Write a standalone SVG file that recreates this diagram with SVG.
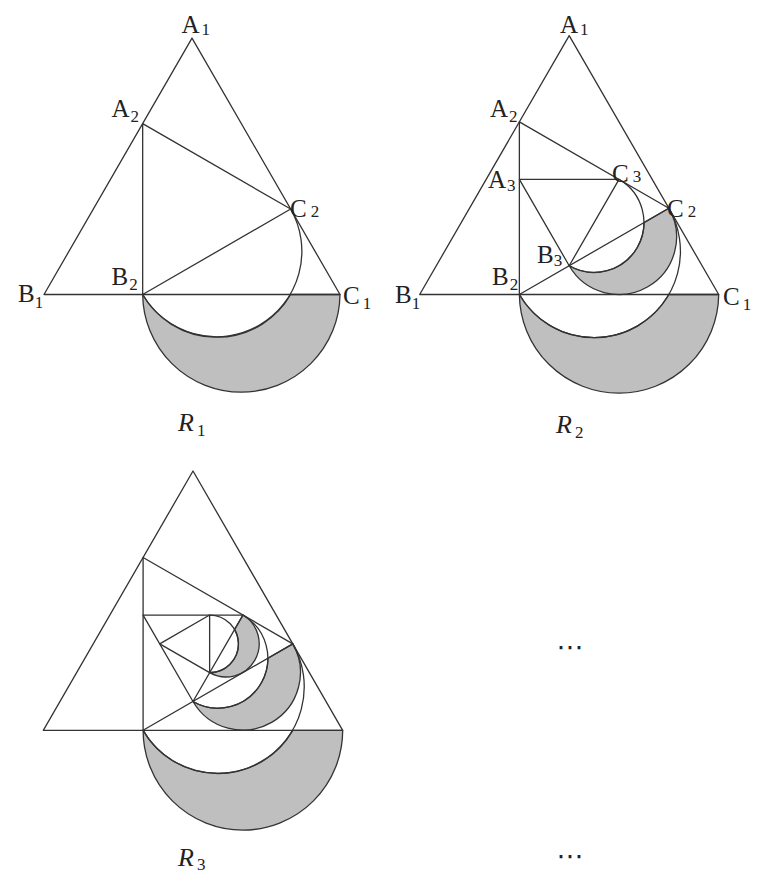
<svg xmlns="http://www.w3.org/2000/svg" width="762" height="874" viewBox="0 0 762 874">
<style>
.ln{fill:none;stroke:#333;stroke-width:1.3;stroke-linejoin:round;stroke-linecap:round}
.sh{fill:#bfbfbf;stroke:#333;stroke-width:1.3;stroke-linejoin:round}
.lb{font-family:"Liberation Serif","DejaVu Serif",serif;font-size:25px;fill:#222}
.sb{font-size:17px}
.rl{font-family:"Liberation Serif","DejaVu Serif",serif;font-size:26px;font-style:italic;fill:#222}
.dots{font-family:"DejaVu Sans","Liberation Sans",sans-serif;font-size:27px;fill:#222}
</style>
<rect width="762" height="874" fill="#fff"/>

<!-- Panel R1 -->
<g id="panel-R1">
  <g id="r1-shading">
    <path class="sh" d="M142.67 294.5 A98.67 98.67 0 0 0 340 294.5 L290.67 294.5 A85.45 85.45 0 0 1 142.67 294.5 Z"/>
  </g>
  <g id="r1-lines">
    <path class="ln" d="M192 38.16 L44 294.5 L340 294.5 Z"/>
    <path class="ln" d="M142.67 294.5 L142.67 123.6 L290.67 209.05 Z"/>
    <path class="ln" d="M290.67 209.05 A85.45 85.45 0 0 1 142.67 294.5"/>
  </g>
  <g id="r1-labels">
    <text class="lb" x="181.5" y="33">A<tspan class="sb" dx="2" dy="2">1</tspan></text>
    <text class="lb" x="111.5" y="116.5">A<tspan class="sb" dx="1" dy="5">2</tspan></text>
    <text class="lb" x="290" y="217">C<tspan class="sb" dx="4" dy="0">2</tspan></text>
    <text class="lb" x="111.5" y="285">B<tspan class="sb" dx="1" dy="5">2</tspan></text>
    <text class="lb" x="18" y="302">B<tspan class="sb" dx="0" dy="6">1</tspan></text>
    <text class="lb" x="343" y="303.5">C<tspan class="sb" dx="3" dy="5">1</tspan></text>
    <text class="rl" x="178" y="431">R<tspan class="sb" font-style="normal" dx="3" dy="5">1</tspan></text>
  </g>
</g>

<!-- Panel R2 -->
<g id="panel-R2">
  <g id="r2-shading">
    <path class="sh" d="M519.37 294.5 A99.67 99.67 0 0 0 718.7 294.5 L668.87 294.5 A86.31 86.31 0 0 1 519.37 294.5 Z"/>
    <path class="sh" d="M569.2 265.73 A57.54 57.54 0 0 0 668.87 208.19 L643.95 222.57 A49.83 49.83 0 0 1 569.2 265.73 Z"/>
  </g>
  <g id="r2-lines">
    <path class="ln" d="M569.2 35.56 L419.7 294.5 L718.7 294.5 Z"/>
    <path class="ln" d="M519.37 294.5 L519.37 121.87 L668.87 208.19 Z"/>
    <path class="ln" d="M519.37 179.41 L619.03 179.41 L569.2 265.73 Z"/>
    <path class="ln" d="M668.87 208.19 A86.31 86.31 0 0 1 519.37 294.5"/>
    <path class="ln" d="M619.03 179.41 A49.83 49.83 0 0 1 569.2 265.73"/>
  </g>
  <g id="r2-labels">
    <text class="lb" x="560" y="33">A<tspan class="sb" dx="2" dy="2">1</tspan></text>
    <text class="lb" x="490" y="117">A<tspan class="sb" dx="1" dy="5">2</tspan></text>
    <text class="lb" x="488" y="188">A<tspan class="sb" dx="1" dy="3">3</tspan></text>
    <text class="lb" x="612" y="182">C<tspan class="sb" dx="4" dy="0">3</tspan></text>
    <text class="lb" x="667" y="217">C<tspan class="sb" dx="4" dy="0">2</tspan></text>
    <text class="lb" x="537" y="263">B<tspan class="sb" dx="0" dy="3">3</tspan></text>
    <text class="lb" x="492" y="285">B<tspan class="sb" dx="1" dy="5">2</tspan></text>
    <text class="lb" x="395" y="303">B<tspan class="sb" dx="0" dy="6">1</tspan></text>
    <text class="lb" x="723" y="305">C<tspan class="sb" dx="3" dy="5">1</tspan></text>
    <text class="rl" x="556" y="433">R<tspan class="sb" font-style="normal" dx="3" dy="5">2</tspan></text>
  </g>
</g>

<!-- Panel R3 -->
<g id="panel-R3">
  <g id="r3-shading">
    <path class="sh" d="M143.1 730.3 A99.8 99.8 0 0 0 342.7 730.3 L292.8 730.3 A86.43 86.43 0 0 1 143.1 730.3 Z"/>
    <path class="sh" d="M193 701.49 A57.62 57.62 0 0 0 292.8 643.87 L267.85 658.28 A49.9 49.9 0 0 1 193 701.49 Z"/>
    <path class="sh" d="M209.63 672.68 A33.27 33.27 0 0 0 242.9 615.06 L234.58 629.47 A28.81 28.81 0 0 1 209.63 672.68 Z"/>
  </g>
  <g id="r3-lines">
    <path class="ln" d="M193 471.01 L43.3 730.3 L342.7 730.3 Z"/>
    <path class="ln" d="M143.1 730.3 L143.1 557.44 L292.8 643.87 Z"/>
    <path class="ln" d="M143.1 615.06 L242.9 615.06 L193 701.49 Z"/>
    <path class="ln" d="M159.73 643.87 L209.63 615.06 L209.63 672.68 Z"/>
    <path class="ln" d="M292.8 643.87 A86.43 86.43 0 0 1 143.1 730.3"/>
    <path class="ln" d="M242.9 615.06 A49.9 49.9 0 0 1 193 701.49"/>
    <path class="ln" d="M209.63 615.06 A28.81 28.81 0 0 1 209.63 672.68"/>
  </g>
  <g id="r3-labels">
    <text class="rl" x="178" y="866">R<tspan class="sb" font-style="normal" dx="3" dy="4">3</tspan></text>
  </g>
</g>

<g id="ellipses">
  <text class="dots" x="570" y="656" text-anchor="middle">⋯</text>
  <text class="dots" x="570" y="865" text-anchor="middle">⋯</text>
</g>
</svg>
